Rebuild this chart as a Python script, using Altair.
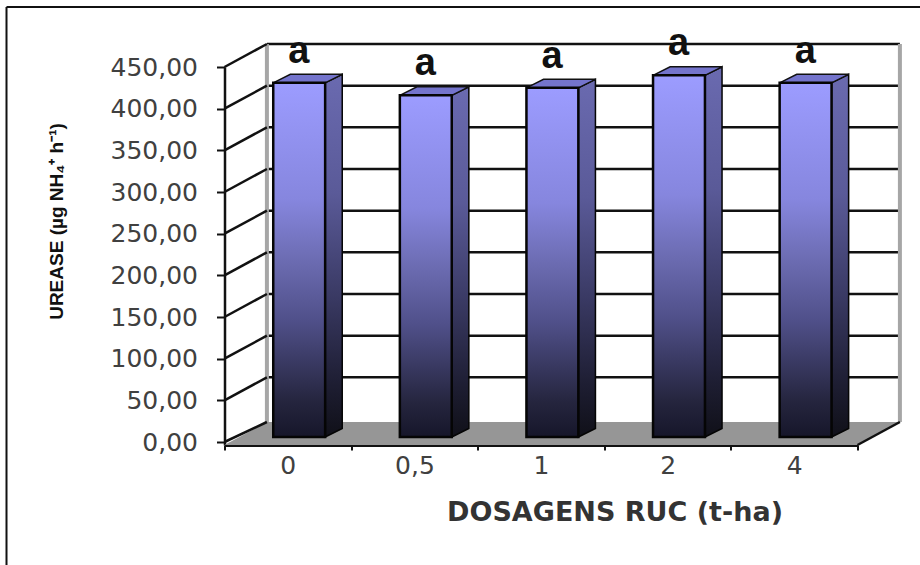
import altair as alt
import pandas as pd

# Values read per dose
doses = ["0", "0,5", "1", "2", "4"]
urease = [425, 410, 419, 434, 425]
letters = ["a", "a", "a", "a", "a"]
y_ticks = [0, 50, 100, 150, 200, 250, 300, 350, 400, 450]

# Oblique projection of the 3-D box, expressed in scale units
WALL_DX = 0.335    # depth of the chart box along x (category units)
WALL_DV = 27.6     # depth of the chart box along y (urease units)
FLOOR_V = -3.6     # front edge of the floor
BAR_DX = 0.135
BAR_DV = 10.2
BAR_BASE = 6.0
BAR_START = 0.385
BAR_W = 0.41
X_MAX = len(doses)
Y_MAX = max(y_ticks)

x_scale = alt.Scale(domain=[0, X_MAX], nice=False, zero=False)
y_scale = alt.Scale(domain=[FLOOR_V, Y_MAX], nice=False, zero=False)


def gradient(stops):
    return alt.LinearGradient(
        gradient="linear", x1=0, x2=0, y1=0, y2=1,
        stops=[alt.GradientStop(offset=o, color=c) for o, c in stops],
    )


front_fill = gradient([(0, "#9C9CFF"), (0.33, "#8686DE"), (0.5, "#6C6CB2"), (0.67, "#50508A"), (0.9, "#25253E"), (1, "#16162A")])
side_fill = gradient([(0, "#6A6AB0"), (0.33, "#5A5A98"), (0.6, "#3B3B66"), (0.85, "#1E1E33"), (1, "#101018")])

X = alt.X("x:Q", scale=x_scale, axis=None)
X2 = alt.X2("x2:Q")
Y = alt.Y("y:Q", scale=y_scale, axis=None)
Y2 = alt.Y2("y2:Q")

# Back wall, floor and grid
wall = pd.DataFrame([{"x": WALL_DX, "x2": X_MAX + WALL_DX, "y": WALL_DV + FLOOR_V, "y2": Y_MAX + WALL_DV}])
wall_layer = alt.Chart(wall).mark_rect(fill="white").encode(x=X, x2=X2, y=Y, y2=Y2)

wall_edges = pd.DataFrame([
    {"x": WALL_DX, "x2": WALL_DX, "y": WALL_DV + FLOOR_V, "y2": Y_MAX + WALL_DV},
    {"x": X_MAX + WALL_DX, "x2": X_MAX + WALL_DX, "y": WALL_DV + FLOOR_V, "y2": Y_MAX + WALL_DV},
])
wall_edge_layer = alt.Chart(wall_edges).mark_rule(color="#A6A6A6", strokeWidth=4).encode(x=X, x2=X2, y=Y, y2=Y2)

floor = pd.DataFrame([
    {"x": 0, "y": FLOOR_V, "y2": FLOOR_V},
    {"x": WALL_DX, "y": FLOOR_V, "y2": FLOOR_V + WALL_DV},
    {"x": X_MAX, "y": FLOOR_V, "y2": FLOOR_V + WALL_DV},
    {"x": X_MAX + WALL_DX, "y": FLOOR_V + WALL_DV, "y2": FLOOR_V + WALL_DV},
])
floor_layer = alt.Chart(floor).mark_area(fill="#969696", opacity=1).encode(x=X, y=Y, y2=Y2)

floor_edges = pd.DataFrame([
    {"x": 0, "x2": WALL_DX, "y": 0, "y2": FLOOR_V + WALL_DV},
    {"x": X_MAX, "x2": X_MAX + WALL_DX, "y": FLOOR_V, "y2": FLOOR_V + WALL_DV},
])
floor_edge_layer = alt.Chart(floor_edges).mark_rule(color="#111111", strokeWidth=2.5).encode(x=X, x2=X2, y=Y, y2=Y2)

back_grid = pd.DataFrame([
    {"x": WALL_DX, "x2": X_MAX + WALL_DX, "y": v + WALL_DV, "y2": v + WALL_DV}
    for v in y_ticks[1:]
])
back_grid_layer = alt.Chart(back_grid).mark_rule(color="#111111", strokeWidth=2.5).encode(x=X, x2=X2, y=Y, y2=Y2)

side_grid = pd.DataFrame([
    {"x": 0, "x2": WALL_DX, "y": v, "y2": v + WALL_DV}
    for v in y_ticks[1:]
])
side_grid_layer = alt.Chart(side_grid).mark_rule(color="#111111", strokeWidth=2.5).encode(x=X, x2=X2, y=Y, y2=Y2)

# Bar faces, one row per corner of the side and top parallelograms
fronts, sides, tops = [], [], []
for i, (dose, value) in enumerate(zip(doses, urease)):
    x0 = i + BAR_START
    x1 = x0 + BAR_W
    fronts.append({"dose": dose, "x": x0, "x2": x1, "y": BAR_BASE, "y2": BAR_BASE + value})
    top = BAR_BASE + value
    sides += [
        {"dose": dose, "x": x1, "y": BAR_BASE, "y2": top},
        {"dose": dose, "x": x1 + BAR_DX, "y": BAR_BASE + BAR_DV, "y2": top + BAR_DV},
    ]
    tops += [
        {"dose": dose, "x": x0, "y": top, "y2": top},
        {"dose": dose, "x": x0 + BAR_DX, "y": top, "y2": top + BAR_DV},
        {"dose": dose, "x": x1, "y": top, "y2": top + BAR_DV},
        {"dose": dose, "x": x1 + BAR_DX, "y": top + BAR_DV, "y2": top + BAR_DV},
    ]

side_layer = alt.Chart(pd.DataFrame(sides)).mark_area(
    color=side_fill, stroke="#050505", strokeWidth=1.5, opacity=1
).encode(x=X, y=Y, y2=Y2, detail="dose:N")
top_layer = alt.Chart(pd.DataFrame(tops)).mark_area(
    fill="#7474CC", stroke="#111111", strokeWidth=1.5, opacity=1
).encode(x=X, y=Y, y2=Y2, detail="dose:N")
front_layer = alt.Chart(pd.DataFrame(fronts)).mark_rect(
    color=front_fill, stroke="#050505", strokeWidth=2.5
).encode(x=X, x2=X2, y=Y, y2=Y2)

# Value axis drawn on the front edge of the box
y_axis = alt.Axis(
    values=y_ticks,
    labelExpr="replace(format(datum.value, '.2f'), '.', ',')",
    labelFont="DejaVu Sans", labelFontSize=25, labelColor="#404040", labelPadding=19,
    tickSize=8, tickWidth=2, tickColor="#111111",
    domainColor="#111111", domainWidth=2.5, grid=False,
    title="UREASE (µg NH₄⁺ h⁻¹)",
    titleFont="Liberation Sans", titleFontSize=19, titleFontWeight="bold", titleColor="#111111",
    titleAngle=270, titleX=-168, titleY=154, titleAlign="center", titleBaseline="middle",
)
y_axis_layer = alt.Chart(pd.DataFrame({"y": y_ticks})).mark_point(opacity=0).encode(
    y=alt.Y("y:Q", scale=y_scale, axis=y_axis),
)

# Dose axis and the significance letter above each bar share one band scale
x_axis = alt.Axis(
    tickBand="extent", labelAngle=0, labelFont="DejaVu Sans", labelFontSize=25, labelColor="#404040",
    labelPadding=3, tickSize=5, tickWidth=2, tickColor="#111111",
    domainColor="#111111", domainWidth=3, grid=False,
    title="DOSAGENS RUC (t-ha)",
    titleFont="DejaVu Sans", titleFontSize=27, titleFontWeight="bold", titleColor="#333333",
    titleX=390, titleY=67, titleAlign="center", titleBaseline="middle",
)
letter_layer = alt.Chart(pd.DataFrame({"dose": doses, "value": urease, "letter": letters})).mark_text(
    font="Liberation Sans", fontWeight="bold", fontSize=38, color="#111111", dx=11, dy=-36, baseline="middle",
).encode(
    x=alt.X("dose:N", sort=doses, scale=alt.Scale(type="band", paddingInner=0, paddingOuter=0), axis=x_axis),
    y=alt.Y("value:Q", scale=y_scale, axis=None),
    text="letter:N",
)

box = alt.layer(
    wall_layer, back_grid_layer, wall_edge_layer, floor_layer, floor_edge_layer,
    side_grid_layer, side_layer, top_layer, front_layer,
)

# Outer frame shows only on the top and left of the page
frame_top = alt.Chart(pd.DataFrame({"k": [0]})).mark_rule(color="#111111", strokeWidth=2).encode(
    x=alt.value(-218), x2=alt.value(696), y=alt.value(-60), detail="k:N",
)
frame_left = alt.Chart(pd.DataFrame({"k": [0]})).mark_rule(color="#111111", strokeWidth=2).encode(
    x=alt.value(-218), y=alt.value(-60), y2=alt.value(498), detail="k:N",
)

chart = alt.layer(box, y_axis_layer, letter_layer, frame_top, frame_left).resolve_scale(
    x="independent"
).resolve_axis(
    y="independent"
).properties(
    width=633, height=378,
    padding={"left": 224.5, "top": 67, "right": 62.5, "bottom": 120},
    autosize=alt.AutoSizeParams(type="none"),
    background="white",
).configure_view(stroke=None)

chart.save("out.html", embed_options={"renderer": "svg", "actions": False})
